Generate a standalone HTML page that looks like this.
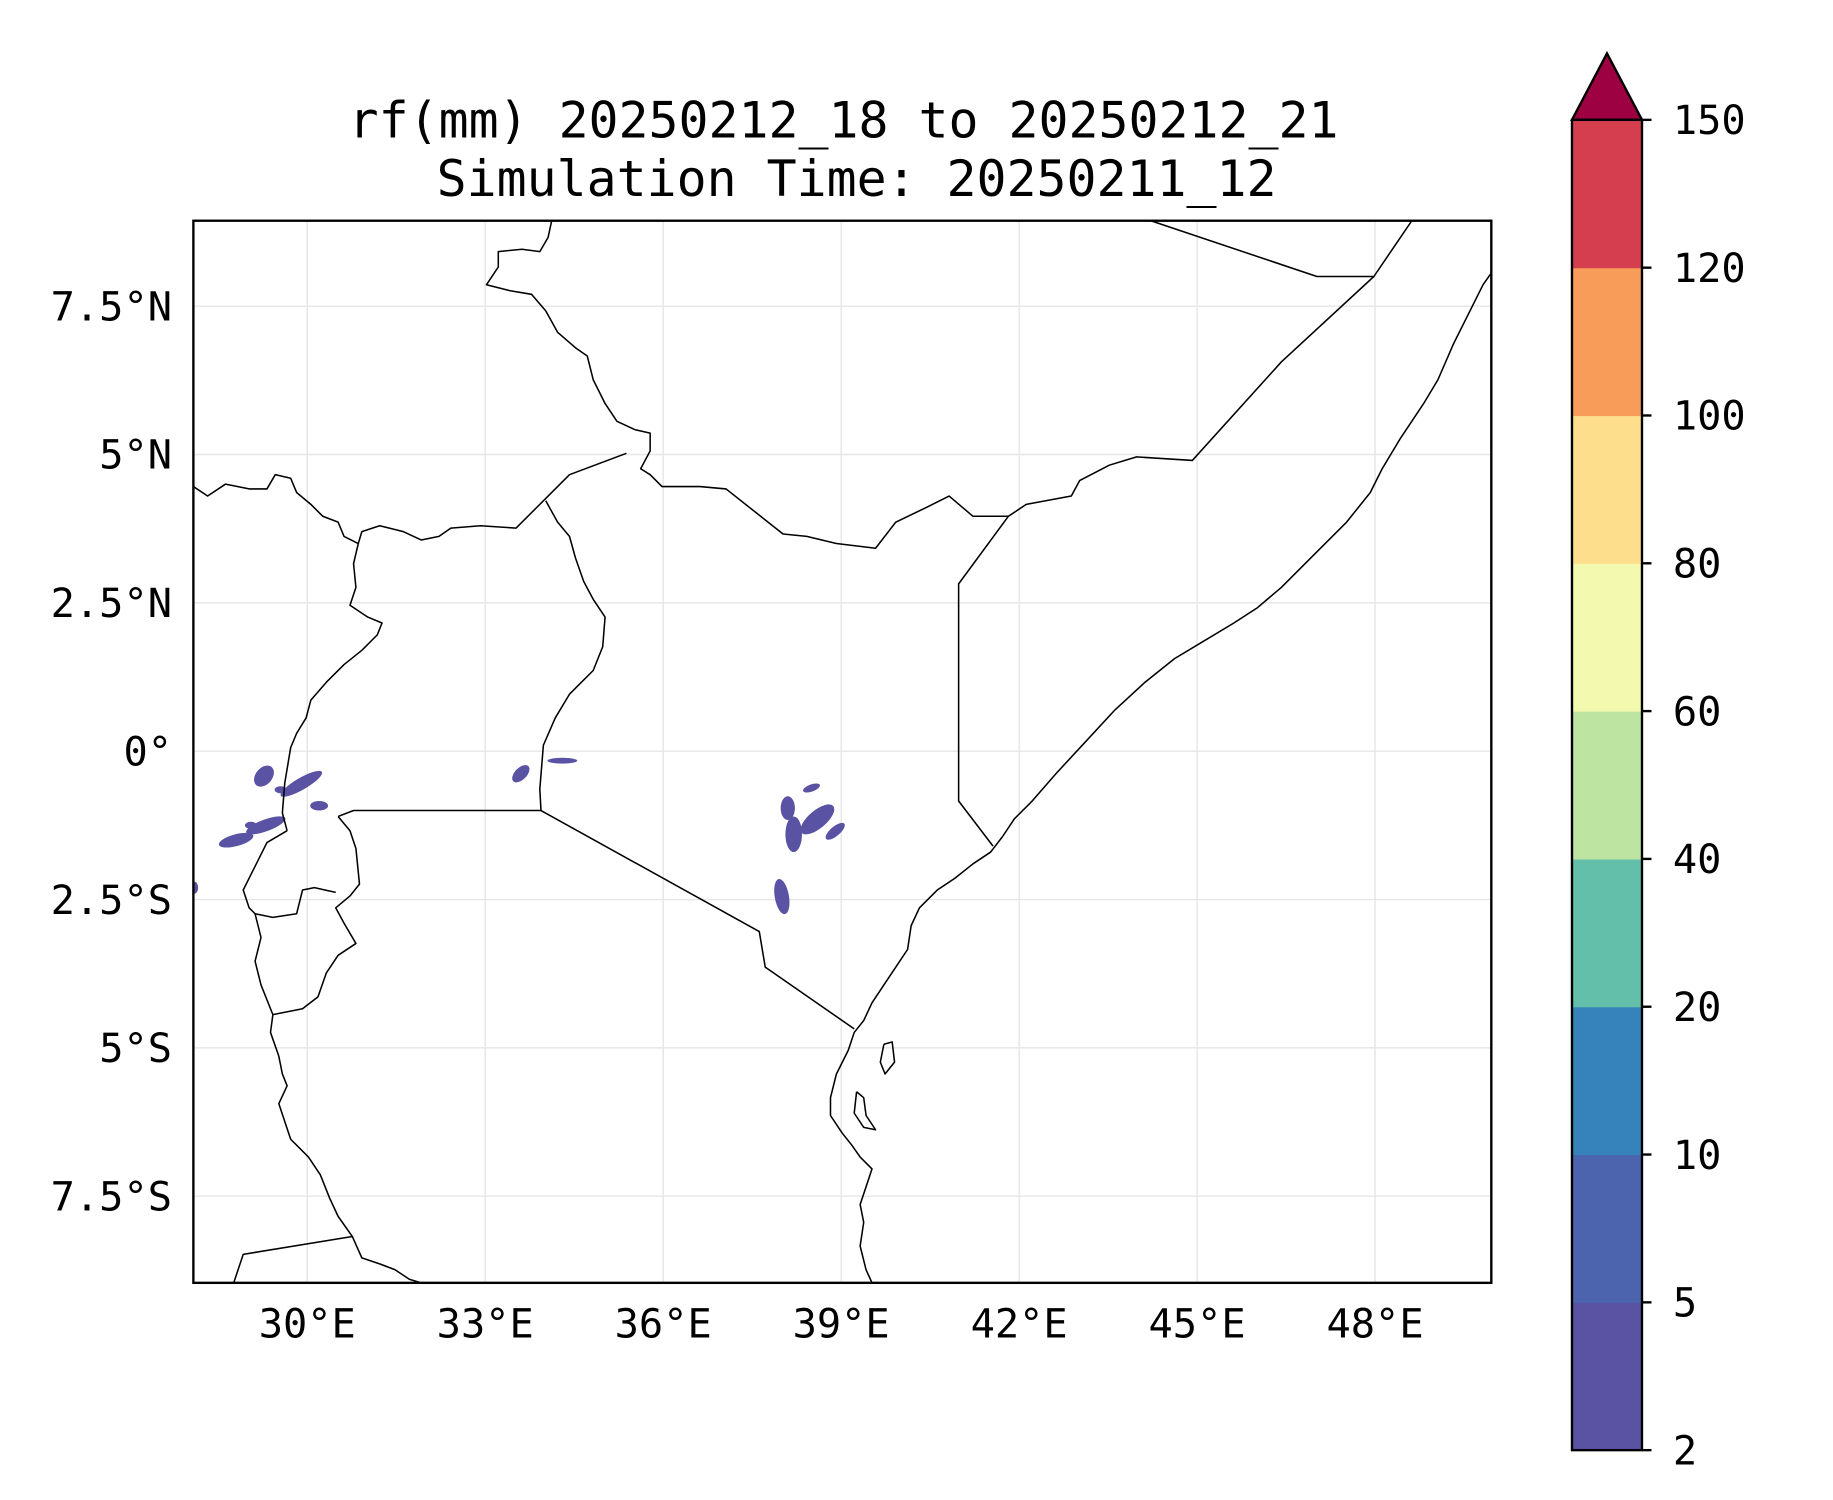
<!DOCTYPE html>
<html><head><meta charset="utf-8"><style>
html,body{margin:0;padding:0;background:#fff;}
svg{display:block;font-family:"DejaVu Sans Mono","Liberation Mono",monospace;}
</style></head><body>
<svg id="fig" width="1833" height="1500" viewBox="0 0 1545 1264" preserveAspectRatio="none" xmlns="http://www.w3.org/2000/svg">
<rect width="1545" height="1264" fill="#fff"/>
<text x="711" y="116" font-size="42" text-anchor="middle">rf(mm) 20250212_18 to 20250212_21</text>
<text x="722" y="165" font-size="42" text-anchor="middle">Simulation Time: 20250211_12</text>
<defs><clipPath id="mapclip"><rect x="163" y="186" width="1094" height="895"/></clipPath></defs>
<g id="grid"></g>
<g id="rain" clip-path="url(#mapclip)"></g>
<g clip-path="url(#mapclip)" fill="none" stroke="#000" stroke-width="1.3" stroke-linejoin="round">
<polyline points="1257,230 1250,240 1240,260 1225,290 1212,320 1200,340 1180,370 1165,395 1155,415 1135,440 1110,465 1080,495 1060,512 1040,525 1015,540 990,555 965,575 940,598 915,625 890,652 870,675 855,690 845,705 835,718 820,728 805,740 790,750 775,765 768,780 765,800 755,815 745,830 735,845 728,860 720,870 715,885 705,905 700,925 700,940 710,955 718,965 725,975 735,985 730,1000 725,1015 728,1030 725,1050 730,1070 735,1081"/>
<polyline points="970,186 1110,233 1158,233 1190,186"/>
<polyline points="1158,233 1080,305 1005,388 958,385 935,392 910,405 903,418 865,425 850,435 808,492 808,675 837,713"/>
<polyline points="850,435 820,435 800,418 780,428 755,440 738,462 705,458 680,452 660,450 612,412 590,410 558,410 548,400 540,395 548,380 548,365 535,362 520,355 510,340 500,320 495,300 485,293 470,280 460,262 448,248 430,245 410,240 420,225 420,212 440,210 455,212 462,200 465,186"/>
<polyline points="163,410 175,418 190,408 210,412 225,412 232,400 245,403 250,415 262,425 272,435 285,440 290,452 302,458 305,448 320,443 340,448 355,455 370,452 380,445 405,443 435,445 458,422 480,400 528,382"/>
<polyline points="460,422 470,440 480,452 485,470 492,490 500,505 510,520 508,545 500,565 490,575 480,585 468,605 458,628 455,665 456,683"/>
<polyline points="302,458 298,475 300,495 295,510 310,520 322,525 318,535 305,548 290,560 275,575 262,590 258,605 250,618 245,630 240,660 238,685 242,700"/>
<polyline points="456,683 298,683 285,688"/>
<polyline points="285,688 295,700 300,715 303,745 295,755 283,765 290,778 300,795 285,805 275,820 268,840 255,850 230,855"/>
<polyline points="242,700 225,710 215,730 205,750 210,765 215,770 230,773 250,770 255,750 265,748 283,752"/>
<polyline points="215,770 220,790 215,810 220,830 230,855 228,870 235,890 238,905 242,915 235,930 245,960 260,975 270,990 278,1010 285,1025 297,1042 305,1060 320,1065 333,1070 345,1078 355,1081"/>
<polyline points="456,683 640,785 645,815 720,867"/>
<polyline points="197,1081 205,1057 297,1042"/>
<polyline points="745,880 752,878 754,895 746,905 742,895 745,880"/>
<polyline points="722,920 728,925 730,940 738,952 728,950 720,938 722,920"/>
</g>
<rect x="163" y="186" width="1094" height="895" fill="none" stroke="#000" stroke-width="2"/>
<g id="ticks" font-size="34"></g>
<g id="cbar"></g>
<script>
const lonTicks=[30,33,36,39,42,45,48];
const latTicks=[7.5,5,2.5,0,-2.5,-5,-7.5];
const latLabels=["7.5°N","5°N","2.5°N","0°","2.5°S","5°S","7.5°S"];
const levels=[2,5,10,20,40,60,80,100,120,150];
const levelColors=["#5a52a3","#4c63ad","#3682ba","#63bfaa","#bde4a0","#f3f9ae","#fcde8c","#f89d59","#d53e4f"];
const rainLon=[29.27,29.9,30.2,29.3,28.8,33.6,34.3,38.6,38.1,38.2,38.0,38.9,38.5,28.1,29.55,29.05];
const rainLat=[-0.42,-0.55,-0.92,-1.25,-1.5,-0.38,-0.16,-1.15,-0.96,-1.4,-2.45,-1.35,-0.62,-2.3,-0.65,-1.25];
const rainRx=[0.2,0.4,0.15,0.35,0.3,0.18,0.25,0.35,0.12,0.14,0.12,0.2,0.15,0.06,0.1,0.1];
const rainRy=[0.14,0.1,0.08,0.1,0.1,0.1,0.05,0.15,0.2,0.3,0.3,0.08,0.06,0.1,0.06,0.06];
const rainRot=[-50,-30,0,-20,-15,-45,0,-40,0,0,-10,-40,-20,0,0,0];
const NS="http://www.w3.org/2000/svg";
const x=lon=>259+(lon-30)*50, y=lat=>633-lat*50;
const g=document.getElementById('grid');
lonTicks.forEach(v=>{const l=document.createElementNS(NS,'line');


l.setAttribute('x1',x(v));l.setAttribute('x2',x(v));l.setAttribute('y1',186);l.setAttribute('y2',1081);l.setAttribute('stroke','#e6e6e6');l.setAttribute('stroke-width','1.2');g.appendChild(l);});
latTicks.forEach(v=>{const l=document.createElementNS(NS,'line');


l.setAttribute('y1',y(v));l.setAttribute('y2',y(v));l.setAttribute('x1',163);l.setAttribute('x2',1257);l.setAttribute('stroke','#e6e6e6');l.setAttribute('stroke-width','1.2');g.appendChild(l);});
const r=document.getElementById('rain');
rainLon.forEach((lo,i)=>{const e=document.createElementNS(NS,'ellipse');


e.setAttribute('cx',x(lo));e.setAttribute('cy',y(rainLat[i]));e.setAttribute('rx',rainRx[i]*50);e.setAttribute('ry',rainRy[i]*50);
e.setAttribute('transform',`rotate(${rainRot[i]} ${x(lo)} ${y(rainLat[i])})`);e.setAttribute('fill',levelColors[0]);r.appendChild(e);});
const t=document.getElementById('ticks');
lonTicks.forEach(v=>{const s=document.createElementNS(NS,'text');


s.setAttribute('x',x(v));s.setAttribute('y',1127);s.setAttribute('text-anchor','middle');s.textContent=v+'°E';t.appendChild(s);});
latTicks.forEach((v,i)=>{const s=document.createElementNS(NS,'text');


s.setAttribute('x',145);s.setAttribute('y',y(v)+12);s.setAttribute('text-anchor','end');s.textContent=latLabels[i];t.appendChild(s);});
const c=document.getElementById('cbar');
const cx0=1325,cw=59,cTop=101,cBot=1222,n=levels.length-1,sh=(cBot-cTop)/n;
levelColors.forEach((col,i)=>{const re=document.createElementNS(NS,'rect');


re.setAttribute('x',cx0);re.setAttribute('y',cBot-(i+1)*sh);re.setAttribute('width',cw);re.setAttribute('height',sh+0.5);re.setAttribute('fill',col);c.appendChild(re);});
const tri=document.createElementNS(NS,'polygon');


tri.setAttribute('points',`${cx0},${cTop} ${cx0+cw/2},45 ${cx0+cw},${cTop}`);tri.setAttribute('fill','#9e0142');tri.setAttribute('stroke','#000');tri.setAttribute('stroke-width','2');c.appendChild(tri);
const fr=document.createElementNS(NS,'rect');


fr.setAttribute('x',cx0);fr.setAttribute('y',cTop);fr.setAttribute('width',cw);fr.setAttribute('height',cBot-cTop);fr.setAttribute('fill','none');fr.setAttribute('stroke','#000');fr.setAttribute('stroke-width','2');c.appendChild(fr);
levels.forEach((v,i)=>{const yy=cBot-i*sh;
const tk=document.createElementNS(NS,'line');


tk.setAttribute('x1',cx0+cw);tk.setAttribute('x2',cx0+cw+8);tk.setAttribute('y1',yy);tk.setAttribute('y2',yy);tk.setAttribute('stroke','#000');tk.setAttribute('stroke-width','2');c.appendChild(tk);
const s=document.createElementNS(NS,'text');


s.setAttribute('x',1410);s.setAttribute('y',yy+12);s.setAttribute('font-size','34');s.textContent=v;c.appendChild(s);});
</script>
</svg>
</body></html>
